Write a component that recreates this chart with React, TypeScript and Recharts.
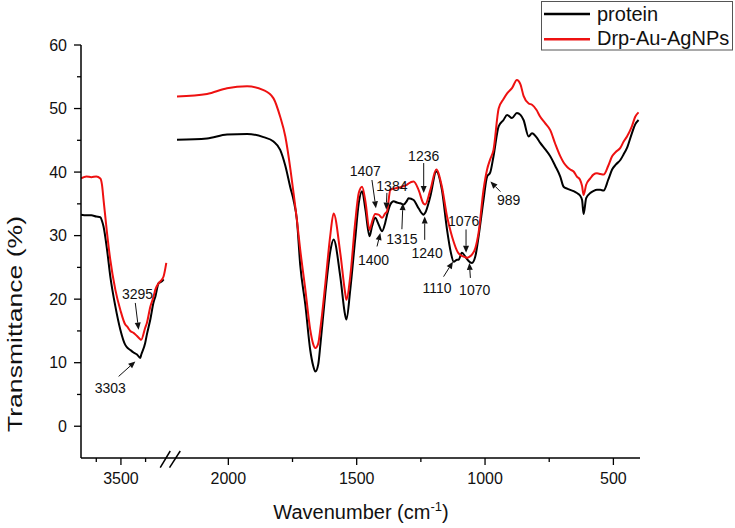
import React from 'react';
import { ComposedChart, Line, Scatter, XAxis, YAxis } from 'recharts';

// ---------- data: high-wavenumber segment (left of the axis break) ----------
const LEFT_WN = [3905, 3850, 3800, 3750, 3709, 3692, 3676, 3641, 3608, 3557, 3506, 3456, 3438, 3405, 3372, 3337, 3304, 3295, 3254, 3236, 3202, 3169, 3151, 3118, 3084, 3067, 3040];
const LEFT_PROTEIN = [33.3, 33.2, 33.2, 33.0, 32.9, 32.3, 31.4, 27.8, 23.6, 18.9, 15.2, 12.8, 12.4, 12.0, 11.6, 11.3, 10.75, 11.2, 13.1, 14.5, 16.8, 19.5, 20.4, 22.5, 22.8, 23.1, null];
const LEFT_NP = [39.0, 39.3, 39.2, 39.3, 39.0, 38.0, 35.6, 30.4, 26.2, 21.5, 18.3, 16.0, 15.7, 15.0, 14.7, 14.2, 13.7, 13.6, 15.5, 16.3, 18.8, 20.4, 21.5, 22.5, 23.1, 23.6, 25.7];

// ---------- data: fingerprint segment (right of the axis break) ----------
const RIGHT_WN = [
  2200, 2083, 2005, 1927, 1863, 1824, 1798, 1778, 1758, 1746,
  1733, 1720, 1700, 1681, 1670, 1661, 1650, 1641, 1622, 1603,
  1590, 1564, 1545, 1540, 1525, 1506, 1492, 1479, 1466, 1450,
  1440, 1428, 1415, 1401, 1389, 1382, 1369, 1356, 1343, 1330,
  1317, 1304, 1298, 1278, 1259, 1239, 1233, 1213, 1190, 1168,
  1148, 1133, 1122, 1109, 1103, 1090, 1077, 1070, 1064, 1051,
  1038, 1025, 1006, 992, 980, 967, 947, 928, 914, 895,
  876, 862, 850, 830, 817, 800, 785, 766, 746, 727,
  707, 694, 680, 668, 655, 642, 630, 622, 616, 606,
  590, 578, 564, 551, 538, 520, 505, 490, 473, 460,
  447, 428, 415, 402,
];
const RIGHT_PROTEIN = [
  45.1, 45.3, 45.9, 46.0, 45.5, 44.8, 43.5, 41.0, 37.5, 35.6,
  32.5, 25.4, 19.1, 12.0, 9.6, 8.6, 9.7, 13.0, 21.0, 27.5,
  29.4, 23.6, 17.5, 16.8, 21.5, 29.4, 35.1, 37.0, 34.1, 29.9,
  31.5, 32.8, 31.8, 30.7, 32.0, 33.2, 34.9, 35.4, 35.2, 35.1,
  34.9, 35.5, 35.9, 35.6, 34.3, 33.3, 33.6, 36.2, 40.1, 37.2,
  30.9, 27.3, 25.9, 26.2, 26.2, 27.3, 26.7, 26.3, 26.0, 25.7,
  26.7, 29.9, 35.6, 39.3, 39.9, 42.5, 47.2, 48.2, 49.0, 48.5,
  49.3, 49.0, 48.2, 45.6, 46.1, 45.5, 44.6, 43.6, 42.5, 41.0,
  39.3, 37.7, 37.4, 37.2, 37.0, 36.7, 36.3, 35.6, 33.4, 35.9,
  36.7, 37.0, 37.2, 37.2, 37.1, 38.8, 40.4, 41.2, 41.9, 42.8,
  43.8, 46.1, 47.5, 48.2,
];
const RIGHT_NP = [
  51.9, 52.3, 53.2, 53.5, 52.9, 51.6, 48.7, 45.6, 40.4, 36.7,
  32.5, 27.8, 21.5, 15.2, 13.0, 12.3, 13.0, 15.5, 22.5, 30.0,
  33.5, 27.3, 21.0, 19.9, 23.6, 32.0, 36.7, 37.7, 35.4, 30.9,
  32.2, 33.4, 33.3, 32.8, 33.5, 33.8, 37.2, 37.4, 37.5, 37.6,
  37.8, 38.0, 38.2, 38.5, 37.2, 35.0, 34.9, 37.2, 40.4, 37.7,
  33.0, 30.5, 29.0, 27.6, 27.2, 26.8, 26.6, 26.5, 26.6, 27.0,
  28.0, 30.5, 37.2, 40.4, 42.0, 43.5, 50.0, 51.5, 52.4, 53.2,
  54.5, 53.8, 52.0, 50.8, 50.6, 49.8, 48.7, 47.7, 46.6, 44.5,
  42.5, 41.5, 40.8, 40.4, 40.1, 39.3, 38.8, 37.8, 36.4, 38.0,
  39.0, 39.6, 39.8, 39.7, 39.6, 41.0, 42.5, 43.2, 43.8, 44.8,
  45.6, 47.2, 48.7, 49.4,
];

// ---------- annotations (peak labels with arrows) ----------
const ANNOTATION_LABELS = ['3303', '3295', '1407', '1384', '1400', '1315', '1236', '1240', '1076', '1110', '1070', '989'];
const ANNOTATION_WN = [3354, 3321, 1425, 1385, 1408, 1320, 1239, 1235, 1074, 1125, 1061, 979];
const ANNOTATION_T = [10.2, 15.2, 34.3, 34.1, 30.4, 35.1, 36.7, 33.0, 27.3, 25.9, 25.7, 38.5];

// ---------- ticks ----------
const BREAK_WN = 3000;
const X_TICK_WN = [3750, 3500, 3250, 2000, 1750, 1500, 1250, 1000, 750, 500];
const X_TICK_LABELS = ['', '3500', '', '2000', '', '1500', '', '1000', '', '500'];
const Y_TICKS = [0, 5, 10, 15, 20, 25, 30, 35, 40, 45, 50, 55, 60];
const Y_TICK_LABELS = ['0', '', '10', '', '20', '', '30', '', '40', '', '50', '', '60'];

const SERIES_NAMES = ['protein', 'Drp-Au-AgNPs'];
const SERIES_COLORS = ['#000000', '#ee1111'];

// ---------- broken-axis mapping (wavenumber -> axis units) ----------
const LEFT_START = 3905;
const LEFT_SCALE = 0.0986;
const RIGHT_START = 2200;
const RIGHT_U0 = 96;
const RIGHT_SCALE = 0.2567;
const U_MAX = 559;
const toU = (wn: number) =>
  wn > 2600 ? (LEFT_START - wn) * LEFT_SCALE : RIGHT_U0 + (RIGHT_START - wn) * RIGHT_SCALE;

const data = [
  ...LEFT_WN.map((wn, i) => ({ wn, protein: LEFT_PROTEIN[i], np: LEFT_NP[i] })),
  { wn: BREAK_WN, protein: null, np: null },
  ...RIGHT_WN.map((wn, i) => ({ wn, protein: RIGHT_PROTEIN[i], np: RIGHT_NP[i] })),
];
const annotations = ANNOTATION_LABELS.map((label, i) => ({ label, wn: ANNOTATION_WN[i], t: ANNOTATION_T[i] }));

// arrow tail / text offsets in px relative to arrow tip
const ARROW_LAYOUT: Record<string, { tail: [number, number]; text: [number, number] }> = {
  '3303': { tail: [-16.7, 15], text: [-25, 26.5] },
  '3295': { tail: [-3.3, -26.7], text: [-1, -36] },
  '1407': { tail: [-4, -28.3], text: [-10.7, -37] },
  '1384': { tail: [0.7, -16.7], text: [5.7, -24] },
  '1400': { tail: [-3.3, 13.4], text: [-6.7, 26.7] },
  '1315': { tail: [-1, 26], text: [-1, 36] },
  '1236': { tail: [0, -30], text: [0, -37.5] },
  '1240': { tail: [0, 23.3], text: [2.4, 36.6] },
  '1076': { tail: [0, -23.3], text: [-2.4, -32] },
  '1110': { tail: [-9.4, 15], text: [-16, 26.6] },
  '1070': { tail: [1, 15], text: [5.3, 26.7] },
  '989': { tail: [10, 10], text: [18.3, 18.3] },
};

const FONT = 'Liberation Sans, Arial, sans-serif';
const BREAK_U = toU(BREAK_WN);

const XTick = (props: any) => {
  const { x, y, payload } = props;
  const v = payload.value;
  if (Math.abs(v - BREAK_U) < 0.01) {
    return (
      <g stroke="#000" strokeWidth={1.5}>
        <line x1={x - 10} y1={y + 9.6} x2={x} y2={y - 7} />
        <line x1={x - 0.7} y1={y + 9.6} x2={x + 10} y2={y - 7} />
      </g>
    );
  }
  let idx = 0;
  let best = Infinity;
  X_TICK_WN.forEach((w, i) => {
    const d = Math.abs(toU(w) - v);
    if (d < best) { best = d; idx = i; }
  });
  const label = X_TICK_LABELS[idx];
  const len = label ? 7 : 4;
  return (
    <g>
      <line x1={x} y1={y} x2={x} y2={y + len} stroke="#000" strokeWidth={1.3} />
      {label && (
        <text x={x} y={y + 26} textAnchor="middle" fontSize={16} fontFamily={FONT} fill="#111">
          {label}
        </text>
      )}
    </g>
  );
};

const YTick = (props: any) => {
  const { x, y, payload } = props;
  const idx = Y_TICKS.indexOf(payload.value);
  const label = Y_TICK_LABELS[idx];
  const len = label ? 7 : 4;
  return (
    <g>
      <line x1={x - len} y1={y} x2={x} y2={y} stroke="#000" strokeWidth={1.3} />
      {label && (
        <text x={x - 14} y={y + 5.5} textAnchor="end" fontSize={16} fontFamily={FONT} fill="#111">
          {label}
        </text>
      )}
    </g>
  );
};

const renderArrow = (props: any) => {
  const { cx, cy, payload } = props;
  const lay = ARROW_LAYOUT[payload.label];
  if (!lay || cx == null || cy == null) return <g />;
  const tx = cx + lay.tail[0];
  const ty = cy + lay.tail[1];
  const dx = cx - tx;
  const dy = cy - ty;
  const L = Math.sqrt(dx * dx + dy * dy) || 1;
  const ux = dx / L;
  const uy = dy / L;
  const head = 7;
  const hw = 3;
  const bx = cx - ux * head;
  const by = cy - uy * head;
  const pts = `${cx},${cy} ${bx - uy * hw},${by + ux * hw} ${bx + uy * hw},${by - ux * hw}`;
  return (
    <g>
      <line x1={tx} y1={ty} x2={bx} y2={by} stroke="#111" strokeWidth={1} />
      <polygon points={pts} fill="#111" />
      <text
        x={cx + lay.text[0]}
        y={cy + lay.text[1] + 5}
        textAnchor="middle"
        fontSize={14}
        fontFamily={FONT}
        fill="#111"
      >
        {payload.label}
      </text>
    </g>
  );
};

const YTitle = () => (
  <text
    x={22}
    y={324}
    transform="rotate(-90 22 324)"
    textAnchor="middle"
    fontSize={21}
    fontFamily={FONT}
    fill="#111"
    textLength={216}
    lengthAdjust="spacingAndGlyphs"
  >
    Transmittance (%)
  </text>
);

const XTitle = () => (
  <text x={361} y={519} textAnchor="middle" fontSize={20} fontFamily={FONT} fill="#111">
    Wavenumber (cm
    <tspan dy={-8} fontSize={13}>-1</tspan>
    <tspan dy={8}>)</tspan>
  </text>
);

const LegendBox = () => (
  <svg
    width={194}
    height={52}
    style={{ position: 'absolute', left: 540, top: 0 }}
  >
    <rect x={1.5} y={1.5} width={191} height={48.5} fill="#fff" stroke="#555" strokeWidth={1} />
    {SERIES_NAMES.map((name, i) => (
      <g key={name}>
        <line x1={4} y1={14 + i * 25.3} x2={50} y2={14 + i * 25.3} stroke={SERIES_COLORS[i]} strokeWidth={2.5} />
        <text x={57} y={20.7 + i * 24.5} fontSize={20} fontFamily={FONT} fill="#111">
          {name}
        </text>
      </g>
    ))}
  </svg>
);

export default function App() {
  return (
    <div style={{ position: 'absolute', left: 0, top: 0, width: 735, height: 528, background: '#fff' }}>
      <ComposedChart
        width={735}
        height={528}
        data={data}
        margin={{ top: 45, right: 95, bottom: 20, left: 21 }}
      >
        <XAxis
          type="number"
          dataKey={(d: any) => toU(d.wn)}
          domain={[0, U_MAX]}
          ticks={[...X_TICK_WN.map(toU), BREAK_U]}
          interval={0}
          tick={<XTick />}
          tickLine={false}
          tickSize={0}
          tickMargin={0}
          height={50}
          axisLine={{ stroke: '#000', strokeWidth: 1.5 }}
          allowDataOverflow
          label={{ content: XTitle }}
        />
        <YAxis
          type="number"
          domain={[-5, 60]}
          ticks={Y_TICKS}
          interval={0}
          tick={<YTick />}
          tickLine={false}
          tickSize={0}
          tickMargin={0}
          width={60}
          axisLine={{ stroke: '#000', strokeWidth: 1.5 }}
          allowDataOverflow
          label={{ content: YTitle }}
        />
        <Line
          dataKey="protein"
          name={SERIES_NAMES[0]}
          type="monotone"
          stroke={SERIES_COLORS[0]}
          strokeWidth={2}
          dot={false}
          activeDot={false}
          connectNulls={false}
          isAnimationActive={false}
        />
        <Line
          dataKey="np"
          name={SERIES_NAMES[1]}
          type="monotone"
          stroke={SERIES_COLORS[1]}
          strokeWidth={2}
          dot={false}
          activeDot={false}
          connectNulls={false}
          isAnimationActive={false}
        />
        <Scatter data={annotations} dataKey="t" shape={renderArrow} isAnimationActive={false} />
      </ComposedChart>
      <LegendBox />
    </div>
  );
}
